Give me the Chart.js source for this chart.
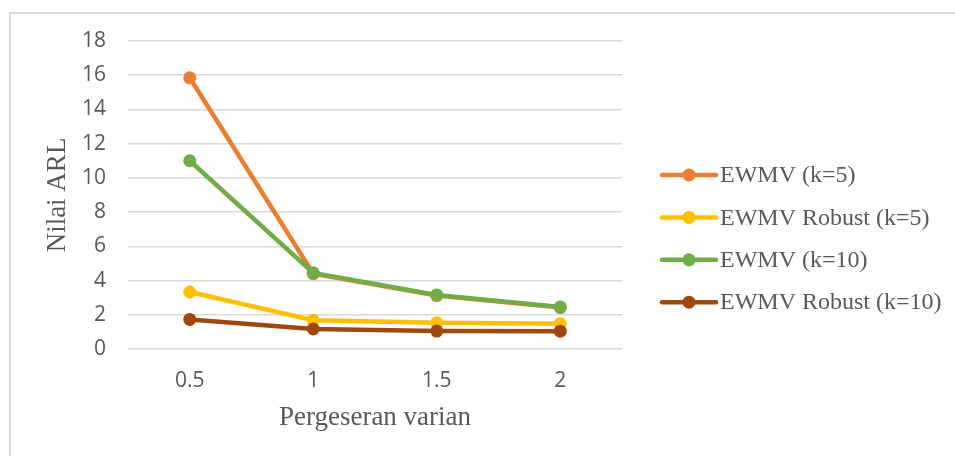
<!DOCTYPE html>
<html>
<head>
<meta charset="utf-8">
<script src="https://cdn.jsdelivr.net/npm/chart.js@4/dist/chart.umd.min.js"></script>
<style>
  body { margin: 0; background: #fff; }
  #kader { position: absolute; left: 9px; top: 12px; width: 1000px; height: 500px;
           border-left: 2px solid #d9d9d9; border-top: 2px solid #d9d9d9; }
  #grafiek { position: absolute; left: 0; top: 0; }
</style>
</head>
<body>
<div id="kader"></div>
<canvas id="grafiek" width="955" height="456"></canvas>
<script>
var pergeseran = ['0.5', '1', '1.5', '2'];
var ewmvK5 = [15.85, 4.4, 3.12, 2.42];
var ewmvRobustK5 = [3.33, 1.68, 1.53, 1.47];
var ewmvK10 = [11.0, 4.45, 3.16, 2.45];
var ewmvRobustK10 = [1.73, 1.17, 1.05, 1.04];
var reeksNamen = ['EWMV (k=5)', 'EWMV Robust (k=5)', 'EWMV (k=10)', 'EWMV Robust (k=10)'];
var kleuren = ['#ED7D31', '#FFC000', '#70AD47', '#9E480E'];

var tekstKleur = '#595959';
var schreef = '"Liberation Serif", "Times New Roman", serif';
var schreefloos = '"Open Sans", Lato, sans-serif';

function maakLijn(i, waarden, volgorde) {
  return {
    label: reeksNamen[i],
    data: waarden,
    borderColor: kleuren[i],
    backgroundColor: kleuren[i],
    borderWidth: 4.5,
    pointRadius: 6.5,
    pointBorderWidth: 0,
    pointBackgroundColor: kleuren[i],
    tension: 0,
    order: volgorde
  };
}

// eigen legenda: lijntje met bolletje en tekst, zoals in Excel
var legendaPlugin = {
  id: 'legendaRechts',
  afterDraw: function (chart) {
    var ctx = chart.ctx;
    var x0 = chart.chartArea.right + 40;
    ctx.save();
    chart.data.datasets.forEach(function (ds, i) {
      var y = 175 + i * 42.4;
      ctx.strokeStyle = ds.borderColor;
      ctx.lineWidth = 4.5;
      ctx.lineCap = 'round';
      ctx.beginPath();
      ctx.moveTo(x0, y);
      ctx.lineTo(x0 + 54, y);
      ctx.stroke();
      ctx.fillStyle = ds.borderColor;
      ctx.beginPath();
      ctx.arc(x0 + 27, y, 6.5, 0, Math.PI * 2);
      ctx.fill();
      ctx.fillStyle = tekstKleur;
      ctx.font = '24px ' + schreef;
      ctx.textBaseline = 'middle';
      ctx.textAlign = 'left';
      ctx.fillText(ds.label, x0 + 58, y + 1);
    });
    ctx.restore();
  }
};

var grafiek = new Chart(document.getElementById('grafiek').getContext('2d'), {
  type: 'line',
  data: {
    labels: pergeseran,
    datasets: [
      maakLijn(0, ewmvK5, 3),
      maakLijn(1, ewmvRobustK5, 2),
      maakLijn(2, ewmvK10, 1),
      maakLijn(3, ewmvRobustK10, 0)
    ]
  },
  options: {
    responsive: false,
    animation: false,
    layout: { padding: { left: 9, top: 41, right: 333, bottom: 0 } },
    plugins: { legend: { display: false }, tooltip: { enabled: false } },
    scales: {
      x: {
        offset: true,
        grid: { display: false },
        border: { display: false },
        ticks: { color: tekstKleur, font: { family: schreefloos, size: 21 }, padding: 11 },
        title: { display: true, text: 'Pergeseran varian', color: tekstKleur,
                 font: { family: schreef, size: 27 }, padding: { bottom: 22 } },
        afterFit: function (s) { s.height = 107; }
      },
      y: {
        min: 0,
        max: 18,
        grid: { color: '#d9d9d9', lineWidth: 1.5, drawTicks: false },
        border: { display: false },
        ticks: { stepSize: 2, color: tekstKleur, font: { family: schreefloos, size: 21 }, padding: 22 },
        title: { display: true, text: 'Nilai ARL', color: tekstKleur,
                 font: { family: schreef, size: 27 }, padding: { top: 33 } },
        afterFit: function (s) { s.width = 119; }
      }
    }
  },
  plugins: [legendaPlugin]
});
</script>
</body>
</html>
